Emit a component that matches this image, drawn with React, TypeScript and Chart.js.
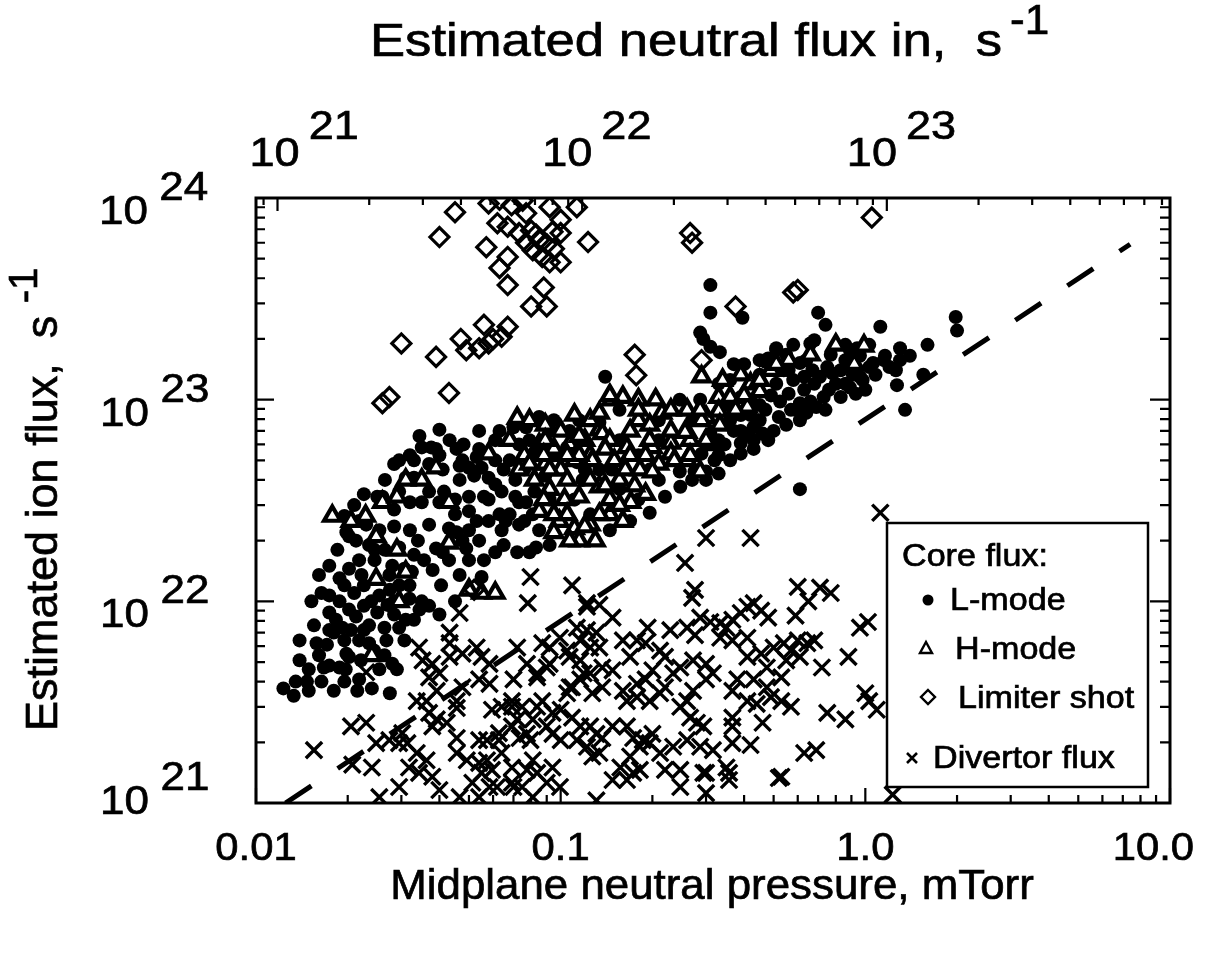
import React, { useEffect, useRef } from "react";
import { Chart, registerables } from "chart.js";

Chart.register(...registerables);

const FONT = '"Liberation Sans", Arial, Helvetica, sans-serif';
const SX = 1.1; // horizontal stretch of the printed lettering

// neutral flux (s^-1) that corresponds to 1 mTorr of midplane pressure (top axis)
const neutralFluxPerMTorr = 8.5e22;

const pressureTicks = [0.01, 0.1, 1, 10];
const pressureTickLabels = ["0.01", "0.1", "1.0", "10.0"];
const ionFluxTickExponents = [21, 22, 23, 24];
const neutralFluxTickExponents = [21, 22, 23];

const fitLine: [number, number][] = [
  [0.0125, 1.0e21],
  [7.4, 5.9e23],
];

const lMode: [number, number][] = [
  [0.0135, 4.0e21], [0.0147, 4.0e21], [0.0149, 3.6e21], [0.0133, 3.4e21], [0.024, 3.7e21], [0.0275, 3.5e21],
  [0.028, 4.9e21], [0.0174, 4.8e21], [0.0188, 4.7e21], [0.0197, 4.6e21], [0.0158, 6.2e21], [0.0171, 6.1e21],
  [0.0198, 5.5e21], [0.0202, 5.3e21], [0.0218, 6.4e21], [0.0235, 6.2e21], [0.0268, 6.4e21], [0.0174, 8.8e21],
  [0.0183, 8.1e21], [0.0192, 7.4e21], [0.0202, 9.1e21], [0.0213, 8.4e21], [0.0174, 1.07e22], [0.0295, 7.4e21],
  [0.031, 8.1e21], [0.0344, 9.1e21], [0.035, 1.0e22], [0.0405, 1.2e22], [0.038, 1.43e22], [0.055, 1.32e22],
  [0.061, 1.75e22], [0.072, 1.75e22], [0.079, 1.75e22], [0.083, 1.85e22], [0.064, 2.25e22], [0.066, 2.5e22],
  [0.068, 2.7e22], [0.077, 3.1e22], [0.081, 2.7e22], [0.0198, 2.2e22], [0.0202, 2.1e22], [0.0213, 2.0e22],
  [0.0265, 4.0e22], [0.031, 4.1e22], [0.033, 4.1e22], [0.025, 3.3e22], [0.026, 3.3e22], [0.035, 5.8e22],
  [0.0376, 5.8e22], [0.039, 5.7e22], [0.04, 7.1e22], [0.0455, 5.7e22], [0.0476, 5.0e22], [0.05, 4.6e22],
  [0.053, 5.2e22], [0.055, 4.6e22], [0.058, 4.1e22], [0.061, 3.8e22], [0.064, 3.5e22], [0.07, 7.3e22],
  [0.077, 7.3e22], [0.085, 8.2e22], [0.092, 7.0e22], [0.043, 2.3e22], [0.0455, 2.2e22], [0.0476, 2.0e22],
  [0.049, 1.83e22], [0.039, 1.83e22], [0.041, 1.75e22], [0.053, 2.5e22], [0.105, 5.8e22], [0.113, 4.9e22],
  [0.118, 4.0e22], [0.023, 2.4e22], [0.0254, 2.25e22], [0.0284, 2.35e22], [0.032, 2.25e22], [0.0235, 1.9e22],
  [0.0265, 1.8e22], [0.0295, 1.85e22], [0.033, 1.7e22], [0.0245, 1.6e22], [0.028, 1.5e22], [0.0307, 1.45e22],
  [0.0222, 1.35e22], [0.0195, 1.2e22], [0.021, 1.1e22], [0.0239, 1.0e22], [0.0275, 1.14e22], [0.0319, 1.2e22],
  [0.025, 8.8e21], [0.0284, 8.6e21], [0.0226, 7.2e21], [0.0155, 7.6e21], [0.0161, 5.4e21], [0.0139, 6.4e21],
  [0.0123, 3.7e21], [0.018, 7.0e21], [0.035, 3.1e22], [0.04, 3.1e22], [0.045, 3.2e22], [0.037, 3.5e22],
  [0.05, 3.3e22], [0.041, 4.5e22], [0.0466, 4.0e22], [0.0295, 5.0e22], [0.073, 6.0e22], [0.082, 5.3e22],
  [0.076, 4.5e22], [0.089, 4.2e22], [0.068, 5.0e22], [0.095, 5.3e22], [0.061, 6.3e22], [0.054, 7.0e22],
  [0.14, 1.3e23], [0.31, 2.7e23], [0.395, 2.55e23], [0.287, 2.15e23], [0.294, 2.0e23], [0.31, 1.83e23],
  [0.333, 1.72e23], [0.45, 1.57e23], [0.47, 1.54e23], [0.55, 1.67e23], [0.66, 1.9e23], [0.7, 2.7e23],
  [0.74, 2.35e23], [1.12, 2.3e23], [0.89, 1.76e23], [0.94, 1.8e23], [1.3, 1.8e23], [1.3, 1.57e23],
  [1.6, 1.87e23], [0.91, 1.33e23], [0.98, 1.25e23], [1.06, 1.52e23], [1.15, 1.57e23], [1.2, 1.45e23],
  [1.27, 1.18e23], [1.35, 8.9e22], [1.98, 2.57e23], [2.0, 2.2e23], [0.61, 3.6e22], [1.55, 1.33e23],
  [0.54, 1.4e23], [0.58, 1.25e23], [0.61, 1.52e23], [0.64, 1.57e23], [0.67, 1.4e23], [0.71, 1.3e23],
  [0.75, 1.45e23], [0.78, 1.35e23], [0.8, 1.2e23], [0.76, 1.12e23], [0.73, 1.03e23], [0.69, 9.2e22],
  [0.64, 8.6e22], [0.61, 7.9e22], [0.57, 8.9e22], [0.52, 8.2e22], [0.5, 7.0e22], [0.46, 6.8e22],
  [0.43, 7.3e22], [0.41, 6.8e22], [0.39, 6.1e22], [0.39, 5.4e22], [0.36, 5.0e22], [0.33, 4.3e22],
  [0.3, 4.4e22], [0.3, 4.0e22], [0.27, 4.0e22], [0.31, 6.8e22], [0.29, 5.4e22], [0.49, 1.05e23],
  [0.45, 9.4e22], [0.42, 1.0e23], [0.39, 8.4e22], [0.36, 7.9e22], [0.33, 6.3e22], [0.86, 1.57e23],
  [0.96, 1.65e23], [1.03, 1.87e23], [0.31, 3.7e23], [0.51, 1.76e23], [0.246, 1.0e23], [0.134, 4.5e22],
  [0.156, 3.6e22], [0.18, 3.2e22], [0.21, 4.0e22], [0.18, 5.3e22], [0.246, 4.4e22], [0.156, 6.3e22],
  [0.115, 7.9e22], [0.134, 7.7e22], [0.21, 6.3e22], [0.27, 7.9e22],
  [0.0139, 5.1e21], [0.0149, 4.6e21], [0.0164, 4.0e21], [0.018, 3.6e21], [0.0195, 4.0e21], [0.0215, 3.6e21],
  [0.0221, 5.1e21], [0.0244, 5.7e21], [0.0254, 4.6e21], [0.0152, 1.0e22], [0.0164, 1.1e22], [0.0188, 1.0e22],
  [0.0205, 7.2e21], [0.0226, 9.5e21], [0.0264, 7.4e21], [0.0307, 6.4e21], [0.033, 8.1e21], [0.037, 9.5e21],
  [0.04, 8.6e21], [0.045, 1.0e22], [0.0466, 1.35e22], [0.043, 1.6e22], [0.0356, 1.6e22], [0.034, 2.0e22],
  [0.037, 2.4e22], [0.0218, 2.5e22], [0.0195, 2.65e22], [0.0185, 1.8e22], [0.0174, 1.5e22], [0.0161, 1.35e22],
  [0.0284, 2.85e22], [0.032, 3.1e22], [0.0226, 3.4e22], [0.021, 3.0e22], [0.0295, 3.5e22], [0.033, 5.0e22],
  [0.0284, 4.8e22], [0.0344, 6.6e22], [0.0432, 6.3e22], [0.048, 6.0e22], [0.054, 5.7e22], [0.061, 5.0e22],
  [0.065, 4.5e22], [0.056, 3.3e22], [0.05, 2.8e22], [0.058, 2.5e22], [0.071, 3.3e22], [0.073, 2.4e22],
  [0.085, 2.25e22], [0.065, 1.9e22], [0.056, 1.6e22], [0.05, 1.6e22], [0.063, 7.0e22], [0.079, 6.3e22],
  [0.095, 7.9e22], [0.107, 7.0e22],
  [0.111, 3.2e22], [0.125, 2.7e22], [0.145, 2.25e22], [0.169, 2.5e22], [0.196, 2.75e22], [0.22, 3.3e22],
  [0.247, 3.7e22], [0.275, 4.4e22], [0.147, 4.5e22], [0.12, 4.5e22], [0.196, 4.5e22], [0.156, 8.9e22],
  [0.21, 7.9e22], [0.287, 1.0e23],
  [0.36, 1.25e23], [0.4, 1.5e23], [0.45, 1.33e23], [0.51, 1.2e23], [0.56, 1.07e23], [0.63, 1.12e23],
  [0.68, 1.2e23], [0.61, 9.6e22], [0.55, 7.5e22], [0.48, 6.3e22], [0.43, 5.7e22], [0.345, 6.0e22],
  [0.32, 5.0e22], [0.45, 7.9e22], [0.83, 1.4e23], [0.86, 1.2e23], [0.93, 1.07e23], [1.0, 1.12e23],
  [1.08, 1.33e23], [0.86, 1.87e23], [0.77, 1.67e23], [0.68, 1.97e23], [0.58, 1.87e23], [0.51, 1.8e23],
  [0.39, 1.03e23], [0.345, 9.4e22], [0.37, 7.0e22],
  [0.0226, 1.2e22], [0.0254, 1.07e22], [0.0284, 1.0e22], [0.0319, 1.03e22], [0.0235, 7.6e21], [0.027, 9.6e21],
  [0.0295, 1.2e22], [0.0325, 1.4e22], [0.0274, 1.35e22], [0.0245, 1.8e22], [0.0218, 1.6e22], [0.0202, 1.45e22],
  [0.0188, 1.3e22], [0.0174, 7.2e21], [0.0195, 6.4e21], [0.0167, 4.7e21], [0.0264, 5.4e21], [0.029, 4.6e21],
  [0.0218, 4.1e21],
  [0.0414, 3.5e22], [0.0466, 4.7e22], [0.052, 4.2e22], [0.058, 3.2e22], [0.063, 2.7e22], [0.073, 3.1e22],
  [0.082, 3.5e22], [0.092, 3.2e22], [0.071, 4.0e22], [0.076, 2.5e22], [0.092, 1.9e22], [0.054, 2.0e22],
  [0.05, 2.25e22], [0.045, 2.7e22], [0.037, 4.8e22], [0.04, 5.3e22], [0.032, 5.3e22],
  [0.42, 8.4e22], [0.47, 8.9e22], [0.525, 9.8e22], [0.59, 8.9e22], [0.66, 9.8e22], [0.74, 8.9e22],
  [0.83, 1.03e23], [0.89, 1.15e23], [0.96, 1.3e23], [1.03, 1.45e23], [1.16, 1.65e23], [1.26, 1.4e23],
  [1.4, 1.65e23], [0.63, 1.3e23], [0.56, 1.4e23], [0.48, 1.6e23], [0.37, 1.5e23], [0.33, 1.2e23],
  [0.39, 7.0e22], [0.33, 5.3e22], [0.43, 6.3e22],
];

const hMode: [number, number][] = [
  [0.0178, 2.65e22], [0.0229, 2.65e22], [0.026, 3.1e22], [0.029, 3.3e22], [0.072, 8.1e22], [0.058, 5.4e22],
  [0.039, 4.6e22], [0.043, 3.1e22], [0.029, 1.8e22], [0.0248, 2.1e22], [0.031, 1.4e22], [0.0248, 1.29e22],
  [0.0295, 1.0e22], [0.043, 1.95e22], [0.05, 1.14e22], [0.055, 1.1e22], [0.061, 1.1e22], [0.024, 5.4e21],
  [0.035, 4.0e22], [0.031, 4.0e22], [0.0205, 2.5e22],
  [0.085, 6.0e22], [0.095, 5.7e22], [0.107, 6.0e22], [0.12, 6.3e22], [0.089, 4.8e22], [0.1, 4.5e22],
  [0.111, 5.0e22], [0.125, 5.3e22], [0.092, 3.6e22], [0.103, 3.2e22], [0.115, 3.3e22], [0.085, 2.8e22],
  [0.099, 2.5e22], [0.111, 2.3e22], [0.125, 2.4e22], [0.095, 2.2e22], [0.13, 2.0e22], [0.079, 7.9e22],
  [0.089, 7.5e22], [0.134, 7.1e22], [0.073, 4.5e22],
  [0.42, 1.2e23], [0.41, 9.2e22], [0.45, 1.1e23], [0.33, 1.03e23], [0.3, 8.2e22], [0.26, 6.9e22],
  [0.215, 8.6e22], [0.18, 7.9e22], [0.165, 5.8e22], [0.137, 6.8e22], [0.2, 5.8e22], [0.23, 6.1e22],
  [0.127, 5.0e22], [0.105, 4.0e22], [0.17, 3.1e22], [0.134, 3.7e22], [0.19, 3.4e22], [0.26, 5.0e22],
  [0.23, 5.4e22], [0.147, 1.0e23], [0.16, 1.03e23], [0.18, 1.0e23], [0.205, 1.0e23], [0.29, 1.3e23],
  [0.34, 1.25e23], [0.39, 1.33e23], [0.145, 2.7e22], [0.16, 2.5e22], [0.115, 2.0e22], [0.29, 7.9e22],
  [0.33, 8.8e22], [0.49, 1.4e23], [0.56, 1.57e23], [0.66, 1.67e23], [0.8, 1.87e23], [0.99, 1.85e23],
  [0.92, 1.5e23],
  [0.1, 7.0e22], [0.111, 8.4e22], [0.125, 7.9e22], [0.145, 6.3e22], [0.169, 7.0e22], [0.196, 7.5e22],
  [0.23, 7.0e22], [0.266, 6.3e22], [0.31, 6.0e22], [0.15, 5.0e22], [0.182, 4.5e22], [0.21, 4.8e22],
  [0.287, 4.4e22], [0.156, 4.0e22], [0.115, 5.3e22], [0.092, 4.5e22], [0.082, 4.0e22], [0.076, 5.3e22],
  [0.105, 2.7e22], [0.145, 3.2e22], [0.134, 8.6e22], [0.26, 8.9e22], [0.36, 1.03e23], [0.51, 1.5e23],
  [0.45, 1.25e23], [0.089, 6.3e22], [0.068, 6.3e22],
  [0.088, 3.2e22], [0.095, 2.7e22], [0.107, 2.0e22], [0.12, 2.35e22], [0.134, 2.7e22], [0.156, 3.0e22],
  [0.175, 3.75e22], [0.2, 4.4e22], [0.236, 5.0e22], [0.266, 5.3e22], [0.3, 6.3e22], [0.333, 7.5e22],
  [0.375, 8.9e22], [0.4, 1.05e23], [0.287, 8.9e22], [0.23, 8.9e22], [0.196, 6.3e22], [0.169, 5.3e22],
  [0.14, 5.7e22], [0.115, 6.6e22], [0.105, 5.3e22], [0.088, 5.3e22], [0.079, 4.8e22], [0.14, 3.75e22],
  [0.125, 4.0e22], [0.163, 4.5e22], [0.19, 5.3e22], [0.256, 6.9e22], [0.145, 1.05e23], [0.18, 8.9e22],
];

const limiter: [number, number][] = [
  [0.045, 8.5e23], [0.04, 6.4e23], [0.057, 5.7e23], [0.062, 7.5e23], [0.058, 9.4e23], [0.069, 9.2e23],
  [0.077, 8.4e23], [0.067, 7.2e23], [0.073, 6.7e23], [0.077, 6.0e23], [0.081, 5.5e23], [0.085, 6.2e23],
  [0.092, 9.0e23], [0.113, 9.0e23], [0.1, 7.8e23], [0.094, 6.8e23], [0.1, 6.7e23], [0.095, 5.6e23],
  [0.1, 4.8e23], [0.092, 4.8e23], [0.087, 5.1e23], [0.067, 5.1e23], [0.063, 4.5e23], [0.067, 3.7e23],
  [0.088, 3.6e23], [0.08, 2.9e23], [0.09, 2.9e23], [0.123, 6.05e23], [0.056, 2.35e23], [0.067, 2.3e23],
  [0.064, 2.05e23], [0.047, 2.0e23], [0.049, 1.76e23], [0.054, 1.8e23], [0.058, 1.9e23], [0.06, 2.0e23],
  [0.039, 1.63e23], [0.03, 1.9e23], [0.043, 1.08e23], [0.0274, 1.03e23], [0.026, 9.6e22], [0.175, 1.67e23],
  [0.177, 1.32e23], [0.266, 6.7e23], [0.27, 6.0e23], [0.375, 2.9e23], [0.29, 1.57e23], [0.58, 3.4e23],
  [0.6, 3.5e23], [1.05, 8.0e23], [0.052, 1.14e22], [0.063, 9.8e23], [0.075, 9.7e23], [0.083, 6.6e23],
  [0.08, 6.9e23], [0.09, 5.9e23],
];

const divertor: [number, number][] = [
  [0.0796, 1.32e22], [0.078, 9.8e21], [0.109, 1.2e22], [0.122, 9.8e21], [0.134, 9.6e21], [0.148, 8.3e21],
  [0.256, 1.55e22], [0.276, 1.14e22], [0.27, 1.04e22], [0.193, 7.4e21], [0.229, 7.2e21], [0.26, 7.4e21],
  [0.276, 6.8e21], [0.287, 8.3e21], [0.31, 7.9e21], [0.334, 7.8e21], [0.35, 7.4e21], [0.366, 8.1e21],
  [0.39, 8.75e21], [0.41, 9.4e21], [0.43, 9.8e21], [0.455, 9.0e21], [0.48, 8.3e21], [0.59, 8.5e21],
  [0.6, 1.18e22], [0.71, 1.17e22], [0.77, 1.1e22], [0.65, 1.0e22], [0.96, 7.4e21], [1.02, 7.9e21],
  [0.88, 5.3e21], [0.72, 4.7e21], [0.334, 6.6e21], [0.366, 6.4e21], [0.41, 6.6e21],
  [0.41, 5.3e21], [0.455, 5.5e21], [0.475, 4.7e21], [0.5, 5.9e21], [0.54, 6.2e21], [0.57, 5.7e21],
  [0.6, 6.4e21], [0.645, 6.2e21], [0.68, 6.4e21], [0.61, 5.3e21], [0.55, 5.1e21], [0.53, 4.2e21],
  [0.475, 3.75e21], [0.43, 4.1e21], [0.38, 4.1e21], [0.366, 3.6e21], [0.41, 3.2e21], [0.44, 3.1e21],
  [0.49, 3.35e21], [0.53, 3.2e21], [0.57, 3.0e21], [0.46, 2.5e21], [0.366, 2.65e21], [0.366, 2.4e21],
  [0.366, 1.98e21], [0.42, 1.94e21], [0.35, 1.5e21], [0.357, 1.3e21], [0.3, 1.41e21], [0.316, 1.83e21],
  [0.287, 1.9e21], [0.28, 2.5e21], [0.294, 2.4e21], [0.266, 2.65e21], [0.247, 3.0e21], [0.26, 3.2e21],
  [0.272, 3.6e21], [0.3, 4.1e21], [0.316, 4.4e21], [0.3, 4.9e21], [0.272, 5.1e21], [0.247, 4.7e21],
  [0.234, 4.4e21], [0.22, 3.75e21], [0.212, 3.5e21], [0.196, 3.2e21], [0.178, 3.35e21], [0.165, 3.2e21],
  [0.16, 3.6e21], [0.178, 3.9e21], [0.19, 4.1e21], [0.2, 4.55e21], [0.22, 5.3e21], [0.212, 5.7e21],
  [0.19, 6.2e21], [0.178, 6.4e21], [0.16, 6.4e21], [0.169, 5.3e21], [0.148, 4.55e21], [0.137, 4.7e21],
  [0.125, 4.4e21], [0.116, 4.1e21], [0.109, 3.75e21], [0.105, 3.5e21], [0.127, 3.5e21], [0.137, 3.75e21],
  [0.094, 2.8e21], [0.1, 2.9e21], [0.109, 2.65e21], [0.116, 2.4e21], [0.125, 2.4e21], [0.131, 2.2e21],
  [0.137, 2.1e21], [0.148, 2.4e21], [0.165, 2.4e21], [0.173, 2.1e21], [0.186, 2.05e21], [0.196, 1.98e21],
  [0.2, 2.2e21], [0.182, 1.9e21], [0.169, 1.7e21], [0.157, 1.5e21], [0.148, 1.3e21], [0.165, 1.3e21],
  [0.173, 1.41e21], [0.182, 1.46e21], [0.134, 1.77e21], [0.127, 1.7e21], [0.122, 1.9e21], [0.113, 2.05e21],
  [0.1, 2.05e21], [0.094, 2.2e21], [0.09, 2.4e21], [0.081, 2.6e21], [0.0796, 2.05e21], [0.0775, 2.2e21],
  [0.0837, 3.0e21], [0.087, 3.2e21], [0.081, 1.63e21], [0.0775, 1.46e21], [0.0837, 1.41e21], [0.094, 1.5e21],
  [0.0995, 1.2e21], [0.09, 1.26e21], [0.0747, 1.2e21], [0.0692, 1.26e21], [0.0618, 1.2e21], [0.0595, 1.46e21],
  [0.0573, 1.63e21], [0.064, 1.77e21], [0.0627, 2.05e21], [0.0692, 2.4e21], [0.072, 2.6e21], [0.0595, 2.9e21],
  [0.0692, 3.0e21], [0.0747, 3.0e21], [0.054, 2.05e21], [0.055, 1.41e21], [0.0584, 3.9e21], [0.054, 4.1e21],
  [0.07, 4.1e21], [0.0837, 4.2e21], [0.09, 4.7e21], [0.092, 5.9e21], [0.105, 5.7e21], [0.116, 6.4e21],
  [0.116, 5.1e21], [0.0995, 6.6e21], [0.113, 7.4e21], [0.122, 7.2e21], [0.131, 7.0e21], [0.134, 5.9e21],
  [0.125, 5.9e21], [0.3, 1.12e21], [0.247, 1.2e21], [0.22, 1.46e21], [0.247, 1.46e21], [0.294, 1.41e21],
  [0.357, 1.41e21], [0.53, 1.35e21], [0.63, 1.77e21], [0.69, 1.83e21], [0.75, 2.8e21], [0.86, 2.6e21],
  [1.0, 3.5e21], [1.03, 3.2e21], [1.09, 2.9e21], [0.234, 1.9e21], [0.26, 2.05e21], [0.212, 1.77e21],
  [0.0155, 1.83e21], [0.0205, 2.4e21], [0.023, 2.5e21], [0.0207, 1.55e21], [0.024, 1.5e21], [0.0248, 1.98e21],
  [0.0274, 2.05e21], [0.0295, 1.98e21], [0.0314, 1.98e21], [0.0302, 2.22e21], [0.0337, 1.77e21], [0.0318, 1.5e21],
  [0.0343, 1.41e21], [0.0379, 1.35e21], [0.0363, 1.63e21], [0.0295, 1.2e21], [0.0254, 1.07e21], [0.04, 1.16e21],
  [0.0456, 2.96e21], [0.0456, 2.1e21], [0.0456, 1.77e21], [0.0492, 1.63e21], [0.054, 1.58e21], [0.0573, 2.05e21],
  [0.0627, 2.22e21], [0.064, 3.0e21], [0.0733, 2.1e21], [0.0423, 2.5e21], [0.0392, 2.6e21], [0.037, 2.8e21],
  [0.0363, 3.2e21], [0.0379, 2.4e21], [0.0513, 1.26e21], [0.0584, 1.2e21], [0.07, 1.2e21], [0.054, 1.07e21],
  [0.0692, 1.5e21], [0.0466, 1.07e21], [0.081, 1.07e21], [0.131, 1.03e21],
  [0.122, 9.4e21], [0.0343, 5.9e21], [0.0432, 6.2e21], [0.053, 5.9e21], [0.087, 6.2e21], [0.023, 4.45e21],
  [0.037, 4.2e21], [0.0379, 4.9e21], [0.0432, 5.3e21], [0.0476, 5.5e21], [0.055, 5.3e21], [0.0584, 4.9e21],
  [0.072, 5.9e21], [0.0775, 4.9e21], [0.0837, 4.4e21], [0.092, 4.9e21], [0.107, 5.3e21], [0.0476, 3.75e21],
  [0.0392, 3.6e21], [0.0337, 3.2e21], [0.0456, 3.2e21], [0.0692, 3.2e21], [0.107, 3.75e21], [0.119, 4.4e21],
  [0.0466, 8.75e21], [0.0432, 7.0e21], [0.0352, 5.1e21], [0.04, 4.4e21],
  [1.12, 2.75e22], [0.3, 2.06e22], [0.42, 2.06e22], [1.23, 1.1e21], [0.52, 1.33e21],
];

const topTitle = "Estimated neutral flux in,  s";
const leftTitle = "Estimated ion flux,  s";
const bottomTitle = "Midplane neutral pressure, mTorr";
const unitExponent = "-1";
const legendHeading = "Core flux:";
const legendLabels = ["L-mode", "H-mode", "Limiter shot", "Divertor flux"];

function drawText(ctx: CanvasRenderingContext2D, text: string, x: number, y: number, size: number, align: CanvasTextAlign = "left", sx = SX) {
  ctx.save();
  ctx.font = `${size}px ${FONT}`;
  ctx.textAlign = align;
  ctx.textBaseline = "alphabetic";
  ctx.translate(x, y);
  ctx.scale(sx, 1);
  ctx.fillText(text, 0, 0);
  ctx.lineWidth = 0.7;
  ctx.strokeStyle = "#000";
  ctx.strokeText(text, 0, 0);
  ctx.restore();
}

function inkBox(ctx: CanvasRenderingContext2D, text: string, size: number, sx = SX) {
  ctx.save();
  ctx.font = `${size}px ${FONT}`;
  ctx.textAlign = "left";
  const m = ctx.measureText(text);
  ctx.restore();
  return { left: -m.actualBoundingBoxLeft * sx, right: m.actualBoundingBoxRight * sx, width: m.width * sx };
}

function logTicks(min: number, max: number) {
  const out: { v: number; major: boolean }[] = [];
  for (let e = Math.floor(Math.log10(min)); e <= Math.ceil(Math.log10(max)); e++) {
    for (let m = 1; m < 10; m++) {
      const v = m * Math.pow(10, e);
      if (v >= min * 0.9999 && v <= max * 1.0001) out.push({ v, major: m === 1 });
    }
  }
  return out;
}

const axesPlugin = {
  id: "idlAxes",
  afterDatasetsDraw(chart: any) {
    const { ctx, chartArea: a, scales } = chart;
    const x = scales.x;
    const y = scales.y;
    const xt = scales.xTop;
    ctx.save();
    ctx.strokeStyle = "#000";
    ctx.fillStyle = "#000";

    // ticks (pointing inward)
    ctx.lineWidth = 2.2;
    ctx.beginPath();
    for (const t of logTicks(x.min, x.max)) {
      const px = x.getPixelForValue(t.v);
      const L = t.major ? 15 : 8;
      ctx.moveTo(px, a.bottom);
      ctx.lineTo(px, a.bottom - L);
    }
    for (const t of logTicks(xt.min, xt.max)) {
      const px = xt.getPixelForValue(t.v);
      const L = t.major ? 13 : 7;
      ctx.moveTo(px, a.top);
      ctx.lineTo(px, a.top + L);
    }
    for (const t of logTicks(y.min, y.max)) {
      const py = y.getPixelForValue(t.v);
      const L = t.major ? 18 : 9;
      ctx.moveTo(a.left, py);
      ctx.lineTo(a.left + L, py);
      const R = t.major ? 20 : 10;
      ctx.moveTo(a.right, py);
      ctx.lineTo(a.right - R, py);
    }
    ctx.stroke();

    // frame
    ctx.lineWidth = 3;
    ctx.strokeRect(a.left, a.top, a.right - a.left, a.bottom - a.top);

    // bottom tick labels
    pressureTicks.forEach((v, i) => {
      const label = pressureTickLabels[i];
      let cx = x.getPixelForValue(v);
      const w = inkBox(ctx, label, 38).width;
      if (cx + w / 2 > 1194) cx = 1194 - w / 2;
      drawText(ctx, label, cx, 860, 38, "center");
    });

    // top tick labels (neutral flux)
    neutralFluxTickExponents.forEach((e) => {
      const px = xt.getPixelForValue(Math.pow(10, e));
      const left = e === 21 ? px - 28 : px - 40;
      const w10 = inkBox(ctx, "10", 41).width;
      drawText(ctx, "10", left, 166, 41, "left");
      drawText(ctx, String(e), left + w10 + 9, 139, 41, "left");
    });

    // left tick labels (ion flux)
    ionFluxTickExponents.forEach((e) => {
      const py = y.getPixelForValue(Math.pow(10, e));
      const base = e === 21 ? py + 11 : py + 26;
      const exp = String(e);
      const eb = inkBox(ctx, exp, 40);
      const expX = 208 - eb.right;
      const expInkLeft = expX + eb.left;
      const tb = inkBox(ctx, "10", 40);
      const tenX = expInkLeft - 15 - tb.right;
      drawText(ctx, "10", tenX, base, 40, "left");
      drawText(ctx, exp, expX, base - 24, 40, "left");
    });

    // titles
    const tt = inkBox(ctx, topTitle, 47, 1.12);
    drawText(ctx, topTitle, 370, 56, 47, "left", 1.12);
    drawText(ctx, unitExponent, 370 + tt.width + 8, 34, 42, "left", 1.05);

    drawText(ctx, bottomTitle, 712, 899, 43, "center", 1.02);

    ctx.save();
    ctx.translate(57, 731);
    ctx.rotate(-Math.PI / 2);
    drawText(ctx, leftTitle, 0, 0, 45, "left", 1);
    ctx.font = `45px ${FONT}`;
    const lw = ctx.measureText(leftTitle + " ").width;
    drawText(ctx, unitExponent, lw, -20, 40, "left", 1);
    ctx.restore();

    // legend
    ctx.fillStyle = "#fff";
    ctx.fillRect(887, 523, 261, 264);
    ctx.lineWidth = 2.5;
    ctx.strokeStyle = "#000";
    ctx.strokeRect(887, 523, 261, 264);
    ctx.fillStyle = "#000";
    drawText(ctx, legendHeading, 902, 566, 31, "left");
    drawText(ctx, legendLabels[0], 950, 610, 31, "left");
    drawText(ctx, legendLabels[1], 955, 659, 31, "left");
    drawText(ctx, legendLabels[2], 958, 708, 31, "left");
    drawText(ctx, legendLabels[3], 933, 768, 31, "left");

    ctx.beginPath();
    ctx.arc(928, 600, 5.5, 0, Math.PI * 2);
    ctx.fill();

    ctx.lineWidth = 2.4;
    ctx.beginPath();
    ctx.moveTo(926, 642);
    ctx.lineTo(932, 653);
    ctx.lineTo(920, 653);
    ctx.closePath();
    ctx.stroke();

    ctx.beginPath();
    ctx.moveTo(928, 690);
    ctx.lineTo(935, 697);
    ctx.lineTo(928, 704);
    ctx.lineTo(921, 697);
    ctx.closePath();
    ctx.stroke();

    ctx.lineWidth = 2.6;
    ctx.beginPath();
    ctx.moveTo(907, 753);
    ctx.lineTo(917, 763);
    ctx.moveTo(917, 753);
    ctx.lineTo(907, 763);
    ctx.stroke();

    ctx.restore();
  },
};

const toXY = (pts: [number, number][]) => pts.map(([x, y]) => ({ x, y }));

export default function App() {
  const ref = useRef<HTMLCanvasElement>(null);

  useEffect(() => {
    const canvas = ref.current;
    if (!canvas) return;
    const chart = new Chart(canvas, {
      type: "scatter",
      data: {
        datasets: [
          {
            label: "fit",
            data: toXY(fitLine),
            showLine: true,
            borderColor: "#000",
            borderWidth: 5,
            borderDash: [31, 31.5],
            pointRadius: 0,
            order: 0,
            clip: 0,
          } as any,
          {
            label: "Limiter shot",
            data: toXY(limiter),
            pointStyle: "rectRot",
            pointRadius: 9.5,
            backgroundColor: "rgba(0,0,0,0)",
            borderColor: "#000",
            pointBorderWidth: 3.2,
            order: 1,
            clip: 0,
          } as any,
          {
            label: "H-mode",
            data: toXY(hMode),
            pointStyle: "triangle",
            pointRadius: 9.5,
            backgroundColor: "#fff",
            borderColor: "#000",
            pointBorderWidth: 4.2,
            order: 2,
            clip: 0,
          } as any,
          {
            label: "L-mode",
            data: toXY(lMode),
            pointStyle: "circle",
            pointRadius: 7,
            backgroundColor: "#000",
            borderColor: "#000",
            pointBorderWidth: 0,
            order: 3,
            clip: 0,
          } as any,
          {
            label: "Divertor flux",
            data: toXY(divertor),
            pointStyle: "crossRot",
            pointRadius: 11.5,
            backgroundColor: "#000",
            borderColor: "#000",
            pointBorderWidth: 3.4,
            order: 4,
            clip: 0,
          } as any,
        ],
      },
      options: {
        responsive: false,
        maintainAspectRatio: false,
        devicePixelRatio: 1,
        animation: false,
        events: [],
        layout: { padding: { left: 256, right: 37, top: 198, bottom: 152 } },
        plugins: { legend: { display: false }, tooltip: { enabled: false } },
        scales: {
          x: { type: "logarithmic", min: 0.01, max: 10, display: false },
          xTop: {
            type: "logarithmic",
            axis: "x",
            position: "top",
            min: 0.01 * neutralFluxPerMTorr,
            max: 10 * neutralFluxPerMTorr,
            display: false,
          },
          y: { type: "logarithmic", min: 1e21, max: 1e24, display: false },
        },
      } as any,
      plugins: [axesPlugin],
    });
    return () => chart.destroy();
  }, []);

  return (
    <div style={{ position: "fixed", left: 0, top: 0, width: 1207, height: 955, background: "#fff" }}>
      <canvas ref={ref} width={1207} height={955} style={{ display: "block", width: 1207, height: 955 }} />
    </div>
  );
}
